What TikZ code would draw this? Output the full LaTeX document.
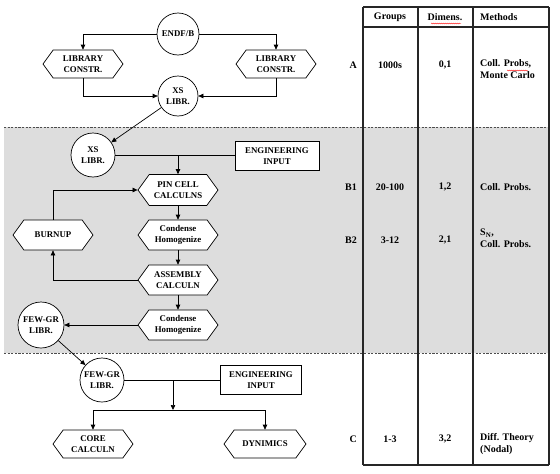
\documentclass[tikz,border=0pt]{standalone}
\usepackage{fontspec}
\setmainfont{Liberation Serif}
\usetikzlibrary{shapes.symbols,arrows.meta,decorations.pathmorphing}
\tikzset{
  base/.style={draw=black, line width=0.7pt, fill=white, align=center, inner sep=1pt,
    font=\bfseries\fontsize{8.8}{11}\selectfont},
  hexa/.style={base, shape=signal, signal to=west and east, signal pointer angle=108,
    minimum width=80pt, minimum height=#1},
  hexa/.default=30pt,
  circ/.style={base, circle, minimum size=#1},
  circ/.default=42pt,
  boxn/.style={base, rectangle, minimum width=84pt, minimum height=29pt},
  arr/.style={line width=0.7pt, -{Triangle[length=5pt,width=4.5pt]}},
  ln/.style={line width=0.7pt},
  tab/.style={font=\bfseries\fontsize{10}{12}\selectfont, inner sep=0pt},
  tline/.style={line width=1.1pt, draw=black!85},
  dashline/.style={line width=0.9pt, draw=black!70, dash pattern=on 2.2pt off 1.4pt},
  squig/.style={red, line width=0.35pt, decorate, decoration={snake, amplitude=0.5pt, segment length=2pt}}
}
\begin{document}
\begin{tikzpicture}[x=1pt, y=-1pt]
\useasboundingbox (0,0) rectangle (560,474);
% shaded band
\fill[gray!27] (4,127) rectangle (550,353);
\draw[dashline] (4,127) -- (550,127);
\draw[dashline] (4,353) -- (550,353);
% table
\draw[tline] (363,7) -- (549,7);
\draw[tline] (363,27) -- (549,27);
\draw[tline] (363,465) -- (549,465);
\foreach \x in {363,418,473,549} \draw[tline] (\x,7) -- (\x,465);
\node[tab] (hg) at (390,17) {Groups};
\node[tab] (hd) at (445,17) {Dimens.};
\node[tab, anchor=west] (hm) at (480,17) {Methods};
\draw[squig] (431,23.5) -- (461,23.5);
\node[tab, anchor=east] (ra) at (357,65) {A};
\node[tab] (ga) at (390,65) {1000s};
\node[tab] (da) at (445,65) {0,1};
\node[tab, anchor=north west, align=left] (ma) at (480,59) {Coll. Probs,\\Monte Carlo};
\draw[squig] (507,70.5) -- (528,70.5);
\node[tab, anchor=east] (rb1) at (357,187) {B1};
\node[tab] (gb1) at (390,187) {20-100};
\node[tab] (db1) at (445,187) {1,2};
\node[tab, anchor=west] (mb1) at (480,187) {Coll. Probs.};
\node[tab, anchor=east] (rb2) at (357,240) {B2};
\node[tab] (gb2) at (390,240) {3-12};
\node[tab] (db2) at (445,240) {2,1};
\node[tab, anchor=north west, align=left] (mb2) at (480,229) {S\textsubscript{N},\\Coll. Probs.};
\node[tab, anchor=east] (rc) at (357,439) {C};
\node[tab] (gc) at (390,439) {1-3};
\node[tab] (dc) at (445,439) {3,2};
\node[tab, anchor=north west, align=left] (mc) at (480,433) {Diff. Theory\\(Nodal)};
% diagram nodes
\node[circ] (endf) at (178,34) {ENDF/B};
\node[hexa=28pt] (lc1) at (83,64) {LIBRARY\\CONSTR.};
\node[hexa=28pt] (lc2) at (276,64) {LIBRARY\\CONSTR.};
\node[circ=40pt] (xs1) at (178,96) {XS\\LIBR.};
\node[circ=44pt] (xs2) at (93,155) {XS\\LIBR.};
\node[boxn] (eng1) at (277,156) {ENGINEERING\\INPUT};
\node[hexa=31pt] (pin) at (178,190) {PIN CELL\\CALCULNS};
\node[hexa] (cond1) at (178,235) {Condense\\Homogenize};
\node[hexa] (asm) at (178,280) {ASSEMBLY\\CALCULN};
\node[hexa] (cond2) at (178,325) {Condense\\Homogenize};
\node[hexa] (burn) at (53,235) {BURNUP};
\node[circ=46pt] (few1) at (41,325) {FEW-GR\\LIBR.};
\node[circ=44pt] (few2) at (102,380) {FEW-GR\\LIBR.};
\node[boxn, minimum width=81pt] (eng2) at (261,380) {ENGINEERING\\INPUT};
\node[hexa=28pt] (core) at (93,444) {CORE\\CALCULN};
\node[hexa=28pt, minimum width=82pt] (dyn) at (265,444) {DYNIMICS};
\coordinate (split) at (173,410);
% connectors
\draw[arr] (endf.west) -| (lc1.north);
\draw[arr] (endf.east) -| (lc2.north);
\draw[arr] (lc1.south) |- (xs1.west);
\draw[arr] (lc2.south) |- (xs1.east);
\draw[arr] (xs1) -- (xs2);
\draw[ln] (xs2.east) -- (xs2.east -| eng1.west);
\draw[arr] (xs2.east -| pin.north) -- (pin.north);
\draw[arr] (pin.south) -- (cond1.north);
\draw[arr] (cond1.south) -- (asm.north);
\draw[arr] (asm.south) -- (cond2.north);
\draw[arr] (asm.west) -| (burn.south);
\draw[arr] (burn.north) |- (pin.west);
\draw[arr] (cond2.west) -- (few1.east);
\draw[arr] (few1) -- (few2);
\draw[ln] (few2.east) -- (eng2.west);
\draw[arr] (few2.east -| split) -- (split);
\draw[arr] (split) -| (core.north);
\draw[arr] (split) -| (dyn.north);
\end{tikzpicture}
\end{document}
